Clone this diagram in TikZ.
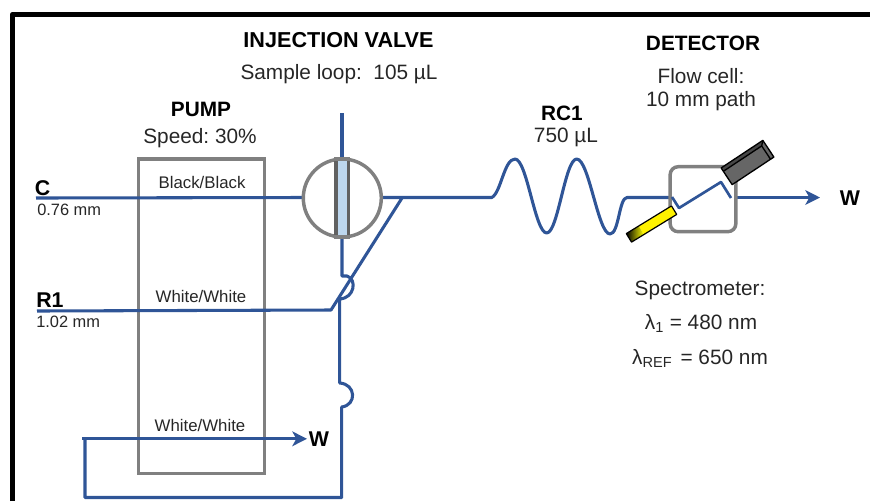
\documentclass[tikz,border=0pt]{standalone}
\usepackage{fontspec}
\setmainfont{Liberation Sans}
\usetikzlibrary{arrows.meta,shadings}
\definecolor{flow}{HTML}{2F5597}
\definecolor{txt}{HTML}{262626}
\definecolor{boxg}{HTML}{808080}
\tikzset{
  x=0.75pt,y=-0.75pt,
  flowline/.style={draw=flow,line width=2.3pt,line join=round},
  arrowline/.style={flowline,-{Stealth[length=11pt,width=11pt,inset=3pt]}},
  graybox/.style={draw=boxg,line width=2.6pt,outer sep=0pt,inner sep=0pt},
  lab/.style={inner sep=0pt,text=txt,font=\fontsize{15.6}{18}\selectfont,align=center},
  head/.style={inner sep=0pt,text=black,font=\fontsize{15.6}{18}\selectfont\bfseries,align=center},
  small/.style={inner sep=0pt,text=txt,font=\fontsize{12.3}{14}\selectfont},
  pumplab/.style={inner sep=0pt,text=txt,font=\fontsize{12.6}{14}\selectfont},
  portlab/.style={inner sep=0pt,text=black,font=\fontsize{16}{18}\selectfont\bfseries},
}
\begin{document}
\begin{tikzpicture}
\useasboundingbox (0,0) rectangle (870,501);
% frame
\draw[black,line width=3.9pt,line join=round] (12.5,501) -- (12.5,14.5) -- (870,14.5);
% pump box
\node[graybox,minimum width=126*0.75pt,minimum height=314.3*0.75pt] (pump) at (201.3,316.2) {};
% coordinates
\coordinate (cIn) at (36,198);
\coordinate (r1In) at (37,311);
\coordinate (valveTop) at (342,113);
\coordinate (outJ) at (402,198);
\coordinate (r1Bend) at (331,310);
% flow lines
\draw[flowline] (cIn) -- (304,197.5);
\draw[flowline] (valveTop) -- (342,160);
\draw[flowline] (342,237) -- (342,276) -- (347,276) .. controls (357,279) and (355,298) .. (339.7,299) -- (339.7,383) .. controls (356,384) and (357,405) .. (341.7,407) -- (341.7,497.5) -- (85,497.5) -- (85,438.5);
\draw[flowline] (r1In) -- (r1Bend) -- (outJ);
\draw[flowline] (383,197.5) -- (491.7,197.5)
  .. controls (501,193) and (504,159) .. (515,159)
  .. controls (527,159) and (535,233) .. (546.7,233)
  .. controls (558,233) and (565,159) .. (576.7,159)
  .. controls (589,159) and (598,234) .. (610,234)
  .. controls (619,234) and (619,197.5) .. (627,197.5) -- (669,197.5);
\draw[arrowline] (737,197.5) -- (820,197.5);
\draw[arrowline] (82,438.8) -- (307,438.8);
% valve
\node[graybox,circle,minimum size=78*0.75pt] (valve) at (342.3,198) {};
\fill[fill={rgb,255:red,189;green,215;blue,238}] (336,160) rectangle (349,236);
\draw[draw=black!62!white,line width=2.6pt] (335.8,159) -- (335.8,237);
\draw[draw=black!62!white,line width=2.6pt] (348.5,159) -- (348.5,237);
\draw[draw=boxg,line width=2.4pt] (334,159) -- (350,159);
\draw[draw=boxg,line width=2.4pt] (334,237) -- (350,237);
% detector
\node[graybox,rounded corners=6pt,minimum width=65.7*0.75pt,minimum height=65*0.75pt] (cell) at (703,199.2) {};
\draw[draw=flow,line width=2pt,line join=round] (672,197) -- (679,208) -- (721,182) -- (731,198);
% lamp
\begin{scope}[shift={(651.5,224)},rotate=31.5]
\draw[draw=white,line width=3pt] (26.5,-5.5) -- (26.5,5.5);
\fill[yellow] (-12,-5) rectangle (26.5,5);
\shade[left color=black,right color=yellow] (-26.5,-5) rectangle (-12,5);
\draw[black,line width=0.9pt,line join=round] (-26.5,-5) rectangle (26.5,5);
\end{scope}
% photodetector
\begin{scope}[shift={(747.5,162.5)},rotate=33.5]
\draw[draw=white,line width=3.5pt] (-25,-10) -- (-25,11);
\fill[black!60!white] (-25,-10) rectangle (25,10);
\fill[black!72!white] (-25,-10) -- (-25,-6) -- (21,-6) -- (25,-10) -- cycle;
\draw[black,line width=1pt,line join=round] (-25,-10) rectangle (25,10);
\draw[black,line width=1pt,line join=round] (-25,-6) -- (21,-6) -- (25,-10);
\draw[black,line width=1pt] (21,-6) -- (21,10);
\end{scope}
% labels
\node[head,font=\fontsize{16.2}{18}\selectfont\bfseries] (hInj) at (338.5,40) {INJECTION VALVE};
\node[lab] (lLoop) at (339,74) {Sample loop:\ \ 105 µL};
\node[head] (hPump) at (201,109) {PUMP};
\node[lab] (lSpeed) at (200,138.5) {Speed:\ 30\%};
\node[head] (hDet) at (703,43) {DETECTOR};
\node[lab] (lCell) at (701,76) {Flow cell:};
\node[lab] (lPath) at (701,101) {10 mm path};
\node[head] (hRC) at (562,113) {RC1};
\node[lab] (lVol) at (566,137) {750 µL};
\node[lab] (lSpec) at (700,290) {Spectrometer:};
\node[lab] (lL1) at (701,323.5) {λ\textsubscript{1} = 480 nm};
\node[lab] (lLr) at (700,358.5) {λ\textsubscript{REF}\hspace{0.12em} = 650 nm};
\node[pumplab] (lBB) at (202,182) {Black/Black};
\node[pumplab] (lWW1) at (201,296) {White/White};
\node[pumplab] (lWW2) at (200,425) {White/White};
\node[portlab,anchor=west] (pC) at (34.5,188) {C};
\node[small,anchor=west] (l076) at (37,210) {0.76 mm};
\node[portlab,anchor=west] (pR) at (36,300) {R1};
\node[small,anchor=west] (l102) at (36,322) {1.02 mm};
\node[portlab] (wR) at (850,198) {W};
\node[portlab] (wL) at (319,439) {W};
\end{tikzpicture}
\end{document}
